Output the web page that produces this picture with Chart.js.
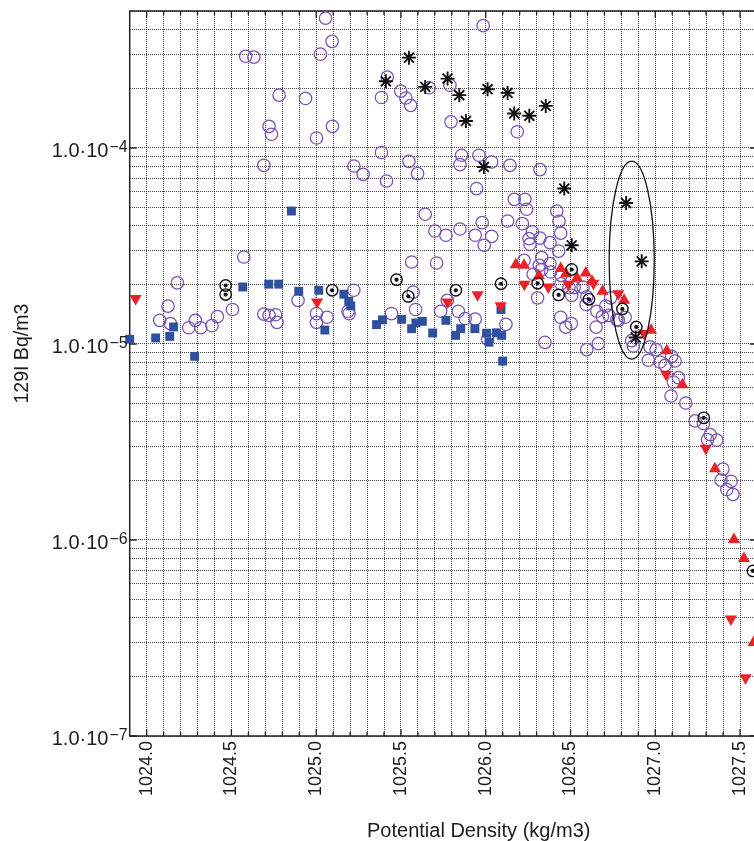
<!DOCTYPE html>
<html><head><meta charset="utf-8">
<script src="https://cdn.jsdelivr.net/npm/chart.js@4"></script>
<style>html,body{margin:0;padding:0;overflow:hidden;background:#fff;width:754px;height:841px}canvas{display:block}</style>
</head><body>
<canvas id="c" width="770" height="841" style="width:770px;height:841px"></canvas>
<script>
const xMin = 1023.9, xMax = 1027.6, yMin = 1e-7, yMax = 5e-4;
const xTickLabels = ['1024.0','1024.5','1025.0','1025.5','1026.0','1026.5','1027.0','1027.5'];
const yDecades = [1e-7, 1e-6, 1e-5, 1e-4];
const yDecadeExponents = ['\u22127', '\u22126', '\u22125', '\u22124'];
const xTitle = 'Potential Density (kg/m3)';
const yTitle = '129I Bq/m3';

const openCircles = [
 [1024.584,2.94e-4],[1024.632,2.91e-4],[1025.055,4.60e-4],[1025.094,3.50e-4],[1025.025,3.01e-4],
 [1024.781,1.86e-4],[1024.937,1.79e-4],[1024.722,1.29e-4],[1024.736,1.175e-4],[1025.002,1.125e-4],
 [1025.096,1.29e-4],[1024.691,8.16e-5],[1025.222,8.09e-5],[1025.277,7.34e-5],[1024.573,2.78e-5],
 [1024.181,2.05e-5],[1024.126,1.56e-5],[1024.077,1.32e-5],[1024.140,1.27e-5],[1024.248,1.21e-5],
 [1024.287,1.32e-5],[1024.319,1.21e-5],[1024.385,1.24e-5],[1024.417,1.38e-5],[1024.506,1.50e-5],
 [1024.691,1.42e-5],[1024.722,1.40e-5],[1024.760,1.41e-5],[1024.769,1.29e-5],[1024.893,1.67e-5],
 [1025.002,1.43e-5],[1025.002,1.29e-5],[1025.064,1.37e-5],[1025.222,1.88e-5],[1025.188,1.47e-5],
 [1025.194,1.43e-5],
 [1025.985,4.21e-4],[1025.419,2.30e-4],[1025.385,1.81e-4],[1025.499,1.95e-4],[1025.529,1.80e-4],
 [1025.557,1.65e-4],[1025.666,2.03e-4],[1025.789,2.09e-4],[1025.795,1.36e-4],[1026.186,1.21e-4],
 [1025.385,9.48e-5],[1025.415,6.79e-5],[1025.547,8.55e-5],[1025.598,7.40e-5],[1025.858,9.18e-5],
 [1025.848,8.23e-5],[1025.960,9.18e-5],[1026.035,8.48e-5],[1026.143,8.16e-5],[1026.320,7.76e-5],
 [1025.946,6.21e-5],[1025.643,4.59e-5],[1025.700,3.77e-5],[1025.765,3.59e-5],[1025.848,3.86e-5],
 [1025.938,3.59e-5],[1025.991,3.19e-5],[1026.035,3.54e-5],[1025.979,4.16e-5],[1026.129,4.24e-5],
 [1026.216,4.11e-5],[1026.168,5.47e-5],[1026.231,5.47e-5],[1026.241,4.87e-5],[1026.275,3.73e-5],
 [1026.255,3.45e-5],[1026.261,3.23e-5],[1026.320,3.47e-5],[1026.379,3.29e-5],[1026.419,4.77e-5],
 [1026.432,4.23e-5],[1026.442,3.68e-5],[1026.430,2.98e-5],[1026.226,2.67e-5],[1026.330,2.76e-5],
 [1026.316,2.52e-5],[1026.379,2.57e-5],[1026.383,2.33e-5],[1026.330,2.40e-5],[1026.280,2.27e-5],
 [1025.563,2.62e-5],[1025.710,2.59e-5],[1025.572,1.84e-5],[1025.586,1.50e-5],[1025.444,1.43e-5],
 [1025.734,1.47e-5],[1025.838,1.47e-5],[1025.879,1.35e-5],[1025.938,1.34e-5],[1025.773,1.67e-5],
 [1026.119,1.26e-5],[1026.011,1.06e-5],[1026.349,1.02e-5],[1026.306,1.72e-5],[1026.442,1.37e-5],
 [1026.472,1.22e-5],[1026.505,1.27e-5],[1026.444,2.03e-5],[1026.507,1.77e-5],[1026.491,1.94e-5],
 [1026.521,1.94e-5],[1026.574,1.95e-5],[1026.444,2.24e-5],[1026.596,1.74e-5],[1026.592,1.59e-5],
 [1026.655,1.47e-5],[1026.651,1.22e-5],[1026.596,9.36e-6],[1026.664,1.005e-5],[1026.708,1.56e-5],
 [1026.737,1.72e-5],[1026.688,1.38e-5],[1026.773,1.33e-5],[1026.822,1.37e-5],[1026.727,1.40e-5],
 [1026.782,1.32e-5],
 [1026.861,1.04e-5],[1026.871,9.77e-6],[1026.969,9.66e-6],[1027.005,9.36e-6],[1026.959,8.26e-6],
 [1027.028,8.09e-6],[1027.058,7.78e-6],[1027.097,8.65e-6],[1027.117,8.19e-6],[1027.107,6.40e-6],
 [1027.136,6.74e-6],[1027.093,5.43e-6],[1027.180,5.00e-6],[1027.235,4.05e-6],[1027.284,3.93e-6],
 [1027.324,3.45e-6],[1027.308,3.25e-6],[1027.363,3.23e-6],[1027.399,2.30e-6],[1027.388,2.02e-6],
 [1027.447,1.99e-6],[1027.422,1.81e-6],[1027.458,1.71e-6]
];

const blueSquares = [
 [1023.900,1.057e-5],[1024.053,1.074e-5],[1024.136,1.094e-5],[1024.159,1.222e-5],[1024.283,8.65e-6],
 [1024.567,1.954e-5],[1024.720,2.02e-5],[1024.779,2.02e-5],[1024.854,4.77e-5],[1024.897,1.858e-5],
 [1025.015,1.88e-5],[1025.051,1.178e-5],[1025.163,1.795e-5],[1025.192,1.652e-5],[1025.204,1.564e-5],
 [1025.356,1.256e-5],[1025.391,1.328e-5],[1025.504,1.336e-5],[1025.563,1.197e-5],[1025.588,1.28e-5],
 [1025.626,1.305e-5],[1025.687,1.138e-5],[1025.765,1.32e-5],[1025.822,1.107e-5],[1025.852,1.197e-5],
 [1025.936,1.197e-5],[1026.005,1.135e-5],[1026.019,1.021e-5],[1026.063,1.140e-5],[1026.094,1.107e-5],
 [1026.090,1.50e-5],[1026.100,8.18e-6]
];

const redDown = [
 [1023.935,1.706e-5],[1025.005,1.637e-5],[1025.775,1.637e-5],[1025.952,1.786e-5],[1026.088,1.567e-5],
 [1026.228,2.02e-5],[1026.369,1.955e-5],[1026.487,2.02e-5],[1026.635,2.04e-5],[1026.782,1.807e-5],
 [1026.934,1.135e-5],[1027.064,7.0e-6],[1027.298,2.94e-6],[1027.446,3.95e-7],[1027.532,1.98e-7]
];

const redUp = [
 [1026.177,2.54e-5],[1026.226,2.52e-5],[1026.314,2.23e-5],[1026.442,2.43e-5],[1026.473,2.28e-5],
 [1026.538,2.17e-5],[1026.590,2.30e-5],[1026.627,2.09e-5],[1026.689,1.858e-5],[1026.816,1.671e-5],
 [1026.975,1.175e-5],[1027.068,9.23e-6],[1027.160,6.19e-6],[1027.352,2.31e-6],[1027.464,1.005e-6],
 [1027.523,8.04e-7],[1027.580,3.0e-7]
];

const bullseye = [
 [1024.466,1.988e-5],[1024.466,1.787e-5],[1025.094,1.879e-5],[1025.474,2.13e-5],[1025.543,1.75e-5],
 [1025.824,1.879e-5],[1026.090,2.03e-5],[1026.306,2.04e-5],[1026.507,2.40e-5],[1026.430,1.78e-5],
 [1026.609,1.69e-5],[1026.806,1.51e-5],[1026.888,1.222e-5],[1027.286,4.20e-6],[1027.576,6.95e-7]
];

const asterisks = [
 [1025.411,2.19e-4],[1025.547,2.89e-4],[1025.643,2.05e-4],[1025.775,2.26e-4],[1025.844,1.86e-4],
 [1025.883,1.374e-4],[1026.011,1.995e-4],[1026.129,1.91e-4],[1026.168,1.50e-4],[1026.257,1.46e-4],
 [1026.354,1.64e-4],[1025.989,8.0e-5],[1026.463,6.21e-5],[1026.507,3.19e-5],[1026.828,5.24e-5],
 [1026.920,2.64e-5],[1026.885,1.08e-5]
];

const ellipseMark = { cx: 1026.861, halfWidth: 0.133, yTop: 8.58e-5, yBottom: 8.38e-6 };

const FONT = '"Liberation Sans", Arial, Helvetica, sans-serif';
const TEXT = '#1c1c1c';
const toXY = a => a.map(([x, y]) => ({x, y}));
const xGridValues = [];
for (let i = 0; i <= 36; i++) xGridValues.push(Math.round(10240 + i) / 10);

const common = { showLine: false, clip: false, pointHoverRadius: 0 };

const decor = {
  id: 'decor',
  beforeDatasetsDraw(chart) {
    const {ctx, chartArea: a, scales: {x, y}} = chart;
    ctx.save();
    ctx.strokeStyle = '#222';
    ctx.lineWidth = 1.5;
    ctx.strokeRect(a.left, a.top, a.right - a.left, a.bottom - a.top);
    ctx.lineWidth = 1.3;
    x.ticks.forEach(t => {
      const px = x.getPixelForValue(t.value);
      const major = xTickLabels.includes(Number(t.value).toFixed(1));
      const L = major ? 7 : 4;
      ctx.beginPath();
      ctx.moveTo(px, a.bottom); ctx.lineTo(px, a.bottom - L);
      ctx.moveTo(px, a.top); ctx.lineTo(px, a.top + L);
      ctx.stroke();
    });
    ctx.lineWidth = 1.6;
    yDecades.forEach(v => {
      const py = y.getPixelForValue(v);
      ctx.beginPath();
      ctx.moveTo(a.left, py); ctx.lineTo(a.left + 7, py);
      ctx.moveTo(a.right, py); ctx.lineTo(a.right - 7, py);
      ctx.stroke();
    });
    ctx.restore();
  },
  afterDraw(chart) {
    const {ctx, chartArea: a, scales: {x, y}} = chart;
    ctx.save();
    const cx = x.getPixelForValue(ellipseMark.cx);
    const rx = x.getPixelForValue(ellipseMark.cx + ellipseMark.halfWidth) - cx;
    const yt = y.getPixelForValue(ellipseMark.yTop), yb = y.getPixelForValue(ellipseMark.yBottom);
    ctx.beginPath();
    ctx.ellipse(cx, (yt + yb) / 2, rx, (yb - yt) / 2, 0, 0, Math.PI * 2);
    ctx.strokeStyle = '#111';
    ctx.lineWidth = 1.3;
    ctx.stroke();
    ctx.fillStyle = TEXT;
    ctx.textAlign = 'right';
    ctx.textBaseline = 'alphabetic';
    const right = a.left - 2;
    yDecades.forEach((v, i) => {
      const py = y.getPixelForValue(v);
      ctx.font = '16px ' + FONT;
      const supW = ctx.measureText(yDecadeExponents[i]).width;
      ctx.fillText(yDecadeExponents[i], right, py + 4);
      ctx.font = '20px ' + FONT;
      ctx.fillText('1.0\u00B710', right - supW - 1, py + 9);
    });
    ctx.textAlign = 'left';
    ctx.font = '20px ' + FONT;
    ctx.fillText(xTitle, 367, 837);
    ctx.save();
    ctx.translate(27.8, 403.5);
    ctx.rotate(-Math.PI / 2);
    ctx.font = '19.5px ' + FONT;
    ctx.fillText(yTitle, 0, 0);
    ctx.restore();
    ctx.restore();
  }
};

new Chart(document.getElementById('c'), {
  type: 'scatter',
  data: { datasets: [
    { ...common, label: 'asterisks', data: toXY(asterisks), order: 0,
      pointStyle: 'star', pointRadius: 7, pointBorderColor: '#111', pointBackgroundColor: '#111', pointBorderWidth: 1.9 },
    { ...common, label: 'bullseye dot', data: toXY(bullseye), order: 1,
      pointStyle: 'circle', pointRadius: 2.1, pointBorderWidth: 0, pointBackgroundColor: '#111', pointBorderColor: '#111' },
    { ...common, label: 'bullseye ring', data: toXY(bullseye), order: 2,
      pointStyle: 'circle', pointRadius: 5.7, pointBorderWidth: 1.4, pointBorderColor: '#111', pointBackgroundColor: 'rgba(0,0,0,0)' },
    { ...common, label: 'red up', data: toXY(redUp), order: 3,
      pointStyle: 'triangle', pointRadius: 7, pointBorderWidth: 0, pointBackgroundColor: '#ea2228', pointBorderColor: '#ea2228' },
    { ...common, label: 'red down', data: toXY(redDown), order: 4,
      pointStyle: 'triangle', pointRotation: 180, pointRadius: 7, pointBorderWidth: 0, pointBackgroundColor: '#ea2228', pointBorderColor: '#ea2228' },
    { ...common, label: 'blue squares', data: toXY(blueSquares), order: 5,
      pointStyle: 'rect', pointRadius: 6.3, pointBorderWidth: 0, pointBackgroundColor: '#2f4f9f', pointBorderColor: '#2f4f9f' },
    { ...common, label: 'open circles', data: toXY(openCircles), order: 6,
      pointStyle: 'circle', pointRadius: 6.2, pointBorderWidth: 1.25, pointBorderColor: '#7852b6', pointBackgroundColor: 'rgba(0,0,0,0)' }
  ]},
  options: {
    responsive: false,
    animation: false,
    devicePixelRatio: 1,
    events: [],
    layout: { padding: { left: 0, top: 11, right: 13, bottom: 0 } },
    plugins: { legend: { display: false }, tooltip: { enabled: false } },
    scales: {
      x: {
        type: 'linear', min: xMin, max: xMax,
        afterBuildTicks: sc => { sc.ticks = xGridValues.map(v => ({ value: v })); },
        afterFit: sc => { sc.height = 105; sc.paddingLeft = 0; sc.paddingRight = 0; },
        grid: { color: 'rgba(0,0,0,0.72)', lineWidth: 1, drawTicks: false },
        border: { display: false, dash: [1, 1] },
        ticks: {
          autoSkip: false, maxRotation: 90, minRotation: 90, padding: 5,
          color: TEXT, font: { family: FONT, size: 18 },
          callback: v => { const s = Number(v).toFixed(1); return xTickLabels.includes(s) ? s : ''; }
        }
      },
      y: {
        type: 'logarithmic', min: yMin, max: yMax,
        afterBuildTicks: sc => {
          const t = [];
          yDecades.forEach(d => { for (let k = 1; k <= 9; k++) { const v = d * k; if (v <= yMax * 1.0001) t.push({ value: v }); } });
          sc.ticks = t;
        },
        afterFit: sc => { sc.width = 129.7; sc.paddingTop = 0; sc.paddingBottom = 0; },
        grid: { color: 'rgba(0,0,0,0.72)', lineWidth: 1, drawTicks: false },
        border: { display: false, dash: [1, 1] },
        ticks: { display: false }
      }
    }
  },
  plugins: [decor]
});
</script>
</body></html>
